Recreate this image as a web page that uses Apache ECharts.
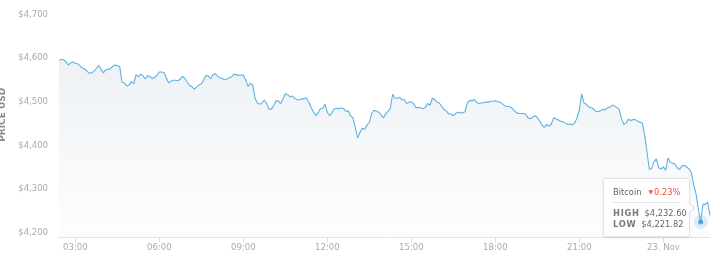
<!DOCTYPE html>
<html><head><meta charset="utf-8">
<script src="https://cdn.jsdelivr.net/npm/echarts@6/dist/echarts.min.js"></script>
<style>html,body{margin:0;padding:0;background:#fff;}#chart{width:720px;height:260px;}</style>
</head><body><div id="chart"></div>
<script>
// ---- data ----
const seriesName = 'Bitcoin';
const startHour = 2 + 25 / 60;   // 22 Nov 02:25
const stepHours = 5 / 60;        // 5-minute samples
const prices = [
  4594, 4597, 4596, 4591, 4584, 4589, 4591, 4588, 4587, 4582,
  4577, 4575, 4570, 4565, 4566, 4570, 4576, 4583, 4574, 4566,
  4573, 4574, 4576, 4581, 4584, 4582, 4581, 4545, 4543, 4536,
  4538, 4546, 4541, 4562, 4557, 4563, 4559, 4552, 4560, 4557,
  4553, 4556, 4561, 4568, 4568, 4567, 4555, 4543, 4547, 4549,
  4549, 4548, 4552, 4558, 4553, 4544, 4537, 4534, 4529, 4534,
  4538, 4541, 4550, 4560, 4559, 4552, 4562, 4564, 4558, 4555,
  4553, 4550, 4552, 4555, 4557, 4563, 4562, 4560, 4561, 4561,
  4550, 4535, 4542, 4539, 4508, 4497, 4494, 4498, 4504, 4496,
  4483, 4483, 4491, 4502, 4502, 4495, 4507, 4518, 4516, 4511,
  4513, 4508, 4505, 4504, 4506, 4507, 4509, 4500, 4488, 4477,
  4468, 4473, 4484, 4485, 4494, 4476, 4468, 4475, 4484, 4485,
  4484, 4486, 4484, 4478, 4479, 4468, 4463, 4440, 4417, 4430,
  4439, 4437, 4447, 4452, 4473, 4480, 4479, 4476, 4470, 4463,
  4472, 4478, 4485, 4517, 4508, 4508, 4510, 4504, 4505, 4496,
  4499, 4500, 4495, 4486, 4487, 4486, 4484, 4487, 4496, 4492,
  4508, 4505, 4499, 4497, 4489, 4482, 4479, 4472, 4472, 4468,
  4473, 4476, 4474, 4475, 4477, 4497, 4503, 4502, 4505, 4498,
  4496, 4497, 4498, 4499, 4499, 4501, 4501, 4502, 4500, 4499,
  4495, 4491, 4489, 4489, 4486, 4480, 4475, 4473, 4473, 4473,
  4472, 4463, 4461, 4465, 4468, 4464, 4456, 4447, 4441, 4448,
  4444, 4449, 4463, 4461, 4458, 4455, 4454, 4451, 4448, 4449,
  4447, 4451, 4463, 4481, 4518, 4497, 4494, 4488, 4486, 4484,
  4478, 4477, 4479, 4483, 4481, 4486, 4487, 4492, 4490, 4487,
  4483, 4463, 4448, 4451, 4460, 4457, 4459, 4459, 4455, 4453,
  4451, 4423, 4385, 4345, 4347, 4363, 4369, 4349, 4346, 4351,
  4343, 4371, 4361, 4359, 4357, 4349, 4345, 4354, 4354, 4351,
  4346, 4338, 4309, 4290, 4254, 4225, 4265, 4265, 4270, 4240
];
const tickHours = [3, 6, 9, 12, 15, 18, 21, 24];
const tickLabels = ['03:00', '06:00', '09:00', '12:00', '15:00', '18:00', '21:00', '23. Nov'];
const priceTicks = [4200, 4300, 4400, 4500, 4600, 4700];
const priceMin = 4190;
const priceMax = 4700;
const hoverIndex = 275;
const hoverChange = '0.23%';
const hoverHigh = '$4,232.60';
const hoverLow = '$4,221.82';

// ---- build ----
const times = prices.map((p, i) => +(startHour + i * stepHours).toFixed(5));
const lineData = times.map((t, i) => [t, prices[i]]);
const hoverPoint = [times[hoverIndex], prices[hoverIndex]];
const FONT = "'DejaVu Sans', sans-serif";

const chart = echarts.init(document.getElementById('chart'), null, { renderer: 'canvas' });
chart.setOption({
  animation: false,
  grid: { left: 59, right: 10, top: 14.3, bottom: 22.8, containLabel: false, outerBoundsMode: 'none' },
  xAxis: {
    type: 'value',
    min: times[0],
    max: times[times.length - 1],
    splitLine: { show: false },
    axisLine: { show: true, lineStyle: { color: '#d9dfe7', width: 1 } },
    axisTick: { show: true, customValues: tickHours, length: 5, lineStyle: { color: '#d9dfe7' } },
    axisLabel: {
      customValues: tickHours,
      margin: 6,
      color: '#a9a9a9',
      fontFamily: FONT,
      fontSize: 8.5,
      formatter: v => tickLabels[tickHours.indexOf(Math.round(v))] || ''
    }
  },
  yAxis: {
    type: 'value',
    min: priceMin,
    max: priceMax,
    name: 'PRICE USD',
    nameLocation: 'middle',
    nameGap: 47,
    nameTextStyle: { fontFamily: FONT, fontSize: 9, fontWeight: 'bold', color: '#8a8a8a', padding: [0, 0, 0, 22] },
    splitLine: { show: false },
    axisLine: { show: false },
    axisTick: { show: false },
    axisLabel: {
      customValues: priceTicks,
      margin: 11,
      color: '#a9a9a9',
      fontFamily: FONT,
      fontSize: 8.5,
      formatter: v => '$' + Number(v).toLocaleString('en-US')
    }
  },
  tooltip: {
    trigger: 'item',
    alwaysShowContent: true,
    transitionDuration: 0,
    showDelay: 0,
    backgroundColor: '#ffffff',
    borderColor: '#e3e3e3',
    borderWidth: 1,
    padding: [7, 8, 8, 9],
    extraCssText: 'box-sizing:border-box;width:87px;height:59px;border-radius:2px;box-shadow:0 1px 3px rgba(0,0,0,0.07);',
    position: () => [603, 178],
    formatter: () =>
      `<div style="font:8.3px ${FONT};color:#666;line-height:11px;">` +
      `<div><span style="color:#666">${seriesName}</span>` +
      `<span style="color:#e8583f;margin-left:7px;"><span style="font-size:6px;vertical-align:1px;margin-right:1px;">&#9660;</span>${hoverChange}</span></div>` +
      `<div style="border-top:1px solid #e4e4e4;margin:4px 0 5px 0;height:0;"></div>` +
      `<div><b style="letter-spacing:0.7px;color:#7a7a7a;">HIGH</b><span style="margin-left:5px;">${hoverHigh}</span></div>` +
      `<div><b style="letter-spacing:0.7px;color:#7a7a7a;">LOW</b><span style="margin-left:5px;">${hoverLow}</span></div>` +
      `<div style="position:absolute;right:-4px;top:25px;width:7px;height:7px;background:#fff;border-top:1px solid #e0e0e0;border-right:1px solid #e0e0e0;transform:rotate(45deg);"></div>` +
      `</div>`
  },
  series: [
    {
      type: 'line',
      name: seriesName,
      data: lineData,
      symbol: 'none',
      silent: true,
      lineStyle: { color: '#5cb3e0', width: 1.1 },
      areaStyle: {
        color: new echarts.graphic.LinearGradient(0, 0, 0, 1, [
          { offset: 0, color: '#e6ebef' },
          { offset: 1, color: '#fbfcfd' }
        ])
      },
      emphasis: { disabled: true },
      z: 2
    },
    {
      type: 'scatter',
      data: [hoverPoint],
      symbolSize: 14,
      silent: true,
      itemStyle: { color: 'rgba(110,185,232,0.3)' },
      emphasis: { disabled: true },
      z: 3
    },
    {
      type: 'scatter',
      name: seriesName,
      data: [hoverPoint],
      symbolSize: 5,
      itemStyle: { color: '#3595d3' },
      emphasis: { disabled: true },
      z: 4
    }
  ]
});
chart.dispatchAction({ type: 'showTip', seriesIndex: 2, dataIndex: 0 });
</script>
</body></html>
